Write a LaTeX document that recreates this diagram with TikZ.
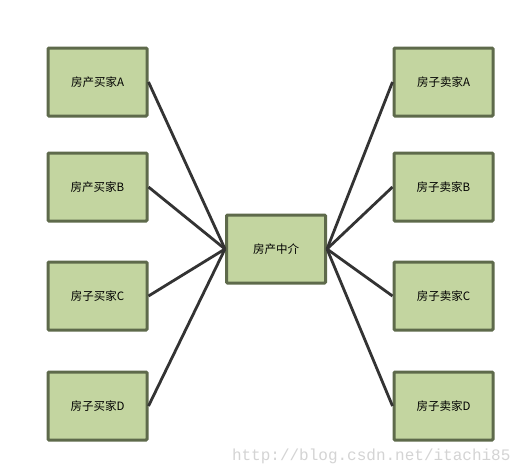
\documentclass[tikz,border=0pt]{standalone}
\usepackage{fontspec}
\setmainfont{Noto Sans CJK SC}
\newfontfamily\wmfont{Liberation Mono}
\definecolor{boxfill}{HTML}{C3D5A0}
\definecolor{boxdraw}{HTML}{5E6A4B}
\definecolor{linecol}{HTML}{333333}
\definecolor{wmcol}{HTML}{D4D4D4}
\begin{document}
\begin{tikzpicture}[x=1pt,y=-1pt,
  box/.style={draw=boxdraw,fill=boxfill,line width=3pt,minimum width=99pt,minimum height=68pt,inner sep=0pt,font=\fontsize{11.5}{13}\selectfont,text=black,rounded corners=1pt},
  conn/.style={draw=linecol,line width=2.8pt}]
\useasboundingbox (0,0) rectangle (525,474);
\fill[white] (0,0) rectangle (525,474);
\node[box] (la) at (97.5,82) {房产买家A};
\node[box] (lb) at (97.5,187) {房产买家B};
\node[box] (lc) at (97.5,296) {房子买家C};
\node[box] (ld) at (97.5,406) {房子买家D};
\node[box] (m) at (276,249) {房产中介};
\node[box] (ra) at (443.5,82) {房子卖家A};
\node[box] (rb) at (443.5,187) {房子卖家B};
\node[box] (rc) at (443.5,296) {房子卖家C};
\node[box] (rd) at (443.5,406) {房子卖家D};
\foreach \n in {la,lb,lc,ld}{\draw[conn] (\n.east) -- (m.west);}
\foreach \n in {ra,rb,rc,rd}{\draw[conn] (\n.west) -- (m.east);}
\node[text=wmcol,font=\wmfont\fontsize{16}{18}\selectfont,anchor=east] (wm) at (514,456) {http://blog.csdn.net/itachi85};
\end{tikzpicture}
\end{document}
